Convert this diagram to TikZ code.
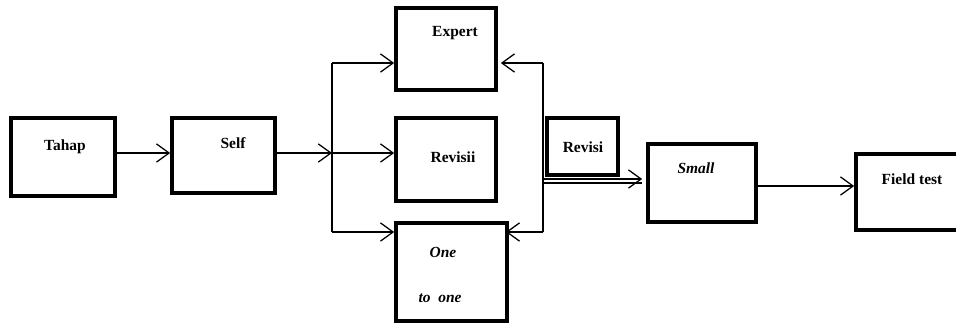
\documentclass[tikz,border=0pt]{standalone}
\usepackage{fontspec}
\setmainfont{Liberation Serif}
\usetikzlibrary{arrows.meta}
\newcommand{\pix}{0.025cm}

\begin{document}
\begin{tikzpicture}[x=\pix, y=-\pix,
  stage/.style={draw, line width=2.6pt, inner sep=0pt},
  word/.style={font=\fontsize{11}{13}\selectfont\bfseries},
  iword/.style={font=\fontsize{11}{13}\selectfont\bfseries\itshape},
  flow/.style={line width=0.9pt, -{Straight Barb[length=9pt, width=13pt, line width=0.9pt]}},
  wire/.style={line width=0.9pt}]

\useasboundingbox (0,0) rectangle (956,325);

% boxes
\node [stage, minimum width=104*\pix, minimum height=78*\pix] (tahap) at (63,157) {};
\node [stage, minimum width=103*\pix, minimum height=75*\pix] (self) at (223.5,155.5) {};
\node [stage, minimum width=100*\pix, minimum height=82*\pix] (expert) at (446,49) {};
\node [stage, minimum width=100*\pix, minimum height=83*\pix] (revisii) at (446,159.5) {};
\node [stage, minimum width=111*\pix, minimum height=98*\pix] (onetoone) at (451.5,272) {};
\node [stage, minimum width=71*\pix, minimum height=57*\pix] (revisi) at (582.5,146.5) {};
\node [stage, minimum width=108*\pix, minimum height=78*\pix] (small) at (702,183) {};
\node [stage, minimum width=124*\pix, minimum height=76*\pix] (field) at (918,192) {};

% texts
\node [word] (tTahap) at (65,147) {Tahap};
\node [word] (tSelf) at (233,143) {Self};
\node [word] (tExpert) at (455,33) {Expert};
\node [word] (tRevisii) at (453,157) {Revisii};
\node [iword] (tOne) at (443,252) {One};
\node [iword] (tToOne) at (440,298) {to\ \ one};
\node [word] (tRevisi) at (583,147) {Revisi};
\node [iword] (tSmall) at (696,168) {Small};
\node [word] (tField) at (912,179) {Field test};

% branch points
\coordinate (lt) at (332,63);
\coordinate (lm) at (332,153);
\coordinate (lb) at (332,232);
\coordinate (rt) at (543,63);
\coordinate (rm) at (543,179);
\coordinate (rm2) at (543,183);
\coordinate (rb) at (543,232);

\draw [flow] (tahap.east |- 0,153) -- (self.west |- 0,153);
\draw [flow] (self.east |- 0,153) -- (lm);
\draw [wire] (lt) -- (lb);
\draw [flow] (lt) -- (expert.west |- lt);
\draw [flow] (lm) -- (revisii.west |- lm);
\draw [flow] (lb) -- (onetoone.west |- lb);

\draw [wire] (rt) -- (rb);
\draw [flow] (rt) -- ([xshift=3*\pix]expert.east |- rt);
\draw [flow] (rb) -- ([xshift=-3*\pix]onetoone.east |- rb);
\draw [flow] (rm) -- ([xshift=-4*\pix]small.west |- rm);
\draw [wire] (rm2) -- ([xshift=-4*\pix]small.west |- rm2);

\draw [flow] (small.east |- 0,186) -- (field.west |- 0,186);

\end{tikzpicture}
\end{document}
